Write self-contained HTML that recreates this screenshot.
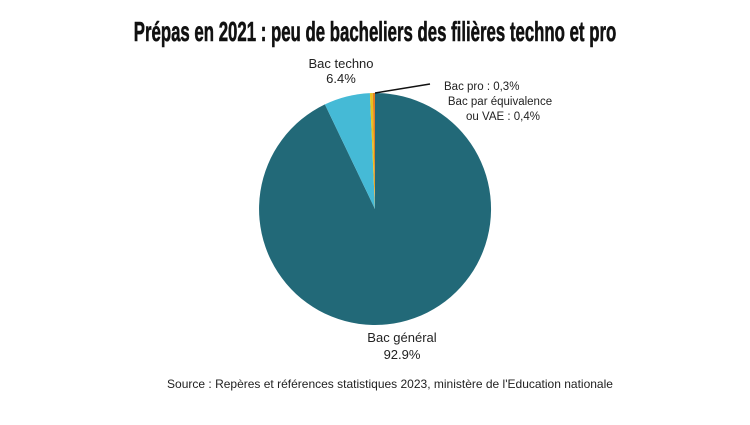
<!DOCTYPE html>
<html><head><meta charset="utf-8"><style>
html,body{margin:0;padding:0;background:#fff;}
body{width:750px;height:420px;overflow:hidden;}
svg text{font-family:"Liberation Sans",sans-serif;fill:#222;}
</style></head><body>
<svg width="750" height="420" viewBox="0 0 750 420">
<text x="375" y="41" text-anchor="middle" font-size="28" font-weight="bold" transform="translate(375 0) scale(0.6 1) translate(-375 0)" style="fill:#111;stroke:#111;stroke-width:0.6">Prépas en 2021 : peu de bacheliers des filières techno et pro</text>
<path d="M375 209 L375 93 A116 116 0 1 1 324.9 104.4 Z" fill="#226978"/>
<path d="M375 209 L324.9 104.4 A116 116 0 0 1 369.9 93.1 Z" fill="#45bad6"/>
<path d="M375 209 L369.9 93.1 A116 116 0 0 1 372.8 93.0 Z" fill="#e8c21f"/>
<path d="M375 209 L372.8 93.0 A116 116 0 0 1 375 93 Z" fill="#e67e22"/>
<line x1="375" y1="93" x2="430" y2="84" stroke="#111" stroke-width="1.5"/>
<text x="341" y="68" text-anchor="middle" font-size="13">Bac techno</text>
<text x="341" y="83" text-anchor="middle" font-size="13">6.4%</text>
<text x="444" y="90" font-size="11.5">Bac pro : 0,3%</text>
<text x="500" y="105" text-anchor="middle" font-size="11.5">Bac par équivalence</text>
<text x="503" y="120" text-anchor="middle" font-size="11.5">ou VAE : 0,4%</text>
<text x="402" y="342" text-anchor="middle" font-size="13">Bac général</text>
<text x="402" y="359" text-anchor="middle" font-size="13">92.9%</text>
<text x="390" y="388" text-anchor="middle" font-size="12">Source : Repères et références statistiques 2023, ministère de l'Education nationale</text>
</svg>
</body></html>
